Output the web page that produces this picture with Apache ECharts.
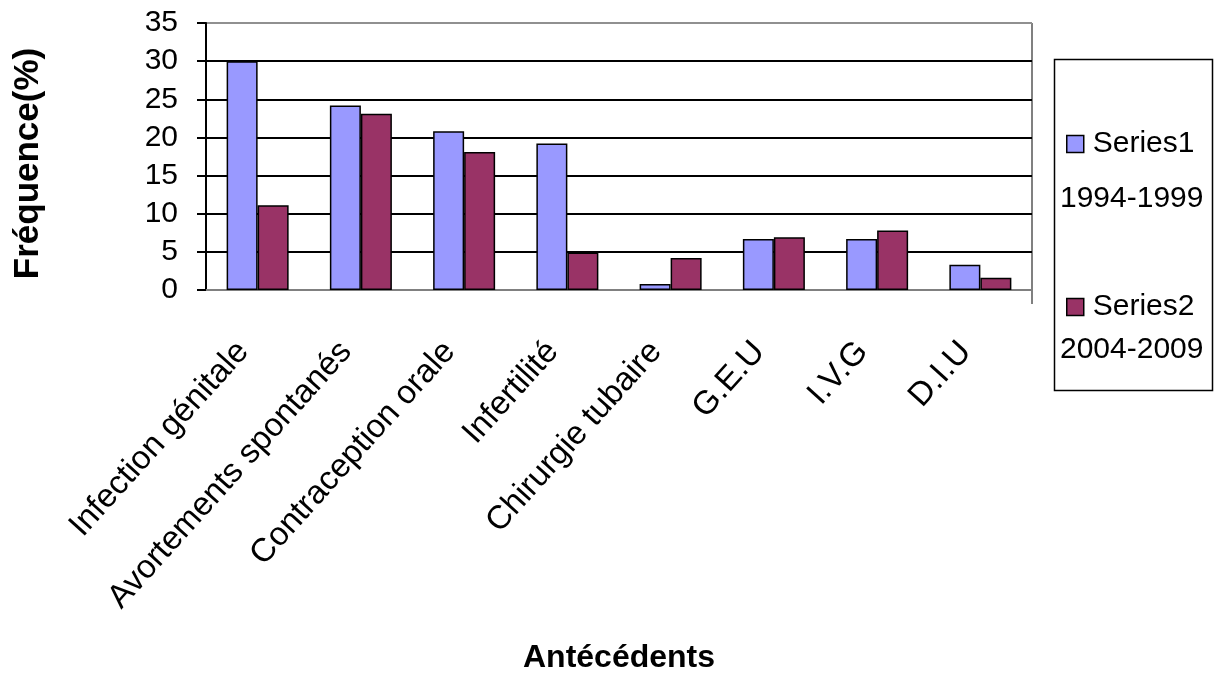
<!DOCTYPE html>
<html>
<head>
<meta charset="utf-8">
<script src="https://cdn.jsdelivr.net/npm/echarts@6/dist/echarts.min.js"></script>
<style>
  html, body { margin: 0; padding: 0; background: #fff; }
  #chart { width: 1219px; height: 675px; }
</style>
</head>
<body>
<div id="chart"></div>
<script>
// Antécédents – fréquence (%) par période
const categories = ['Infection génitale', 'Avortements spontanés', 'Contraception orale', 'Infertilité', 'Chirurgie tubaire', 'G.E.U', 'I.V.G', 'D.I.U'];
const seriesNames = ['Series1', 'Series2'];
const periods = ['1994-1999', '2004-2009'];
const series1 = [30.0, 24.2, 20.8, 19.2, 0.8, 6.7, 6.7, 3.3];
const series2 = [11.1, 23.1, 18.1, 4.9, 4.2, 6.9, 7.8, 1.6];
const yTicks = { min: 0, max: 35, interval: 5 };

const colors = ['#9999FF', '#993366'];
const FONT = '"Liberation Sans", Arial, sans-serif';

const chart = echarts.init(document.getElementById('chart'));

const legendTops = [124, 287];
const periodTops = [184, 335];

chart.setOption({
  animation: false,
  backgroundColor: '#fff',
  grid: { left: 206, right: 187, top: 23, bottom: 371, containLabel: false },
  xAxis: {
    type: 'category',
    data: categories,
    name: 'Antécédents',
    nameLocation: 'middle',
    nameGap: 352,
    nameTextStyle: { fontFamily: FONT, fontSize: 32, fontWeight: 'bold', color: '#000' },
    axisLine: { show: true, lineStyle: { color: '#808080', width: 2 } },
    axisTick: { show: false },
    axisLabel: {
      rotate: 48,
      interval: 0,
      margin: 40,
      padding: [0, 22, 0, 0],
      fontFamily: FONT,
      fontSize: 33,
      color: '#000'
    }
  },
  yAxis: {
    type: 'value',
    min: yTicks.min,
    max: yTicks.max,
    interval: yTicks.interval,
    name: 'Fréquence(%)',
    nameLocation: 'middle',
    nameGap: 160,
    nameRotate: 90,
    nameTextStyle: { fontFamily: FONT, fontSize: 35, fontWeight: 'bold', color: '#000', padding: [0, 14, 0, 0] },
    axisLine: { show: true, lineStyle: { color: '#000', width: 2 } },
    axisTick: { show: true, length: 9, lineStyle: { color: '#000', width: 2 } },
    axisLabel: { margin: 28, fontFamily: FONT, fontSize: 30, color: '#000' },
    splitLine: {
      show: true,
      lineStyle: {
        color: ['#808080', '#000', '#000', '#000', '#000', '#000', '#000', '#909090'],
        width: 2
      }
    }
  },
  legend: seriesNames.map((name, i) => ({
    data: [name],
    orient: 'vertical',
    left: 1061,
    top: legendTops[i],
    icon: 'rect',
    itemWidth: 17,
    itemHeight: 17,
    itemGap: 0,
    textStyle: { fontFamily: FONT, fontSize: 30, color: '#000', padding: [0, 0, 0, 4] },
    itemStyle: { borderColor: '#000', borderWidth: 1.5 }
  })),
  graphic: [
    {
      type: 'rect',
      left: 1052,
      top: 57,
      shape: { width: 158, height: 331 },
      style: { fill: 'none', stroke: '#000', lineWidth: 1.5 },
      silent: true
    },
    {
      type: 'line',
      shape: { x1: 1032, y1: 23, x2: 1032, y2: 304 },
      style: { stroke: '#808080', lineWidth: 2 },
      silent: true
    }
  ].concat(periods.map((p, i) => ({
    type: 'text',
    left: 1060,
    top: periodTops[i],
    style: { text: p, font: '30px ' + FONT, fill: '#000' },
    silent: true
  }))),
  series: [
    {
      name: seriesNames[0],
      type: 'bar',
      data: series1,
      barWidth: 31,
      barGap: '0%',
      itemStyle: { color: colors[0], borderColor: '#000', borderWidth: 1.5 }
    },
    {
      name: seriesNames[1],
      type: 'bar',
      data: series2,
      barWidth: 31,
      barGap: '0%',
      itemStyle: { color: colors[1], borderColor: '#000', borderWidth: 1.5 }
    }
  ]
});
</script>
</body>
</html>
